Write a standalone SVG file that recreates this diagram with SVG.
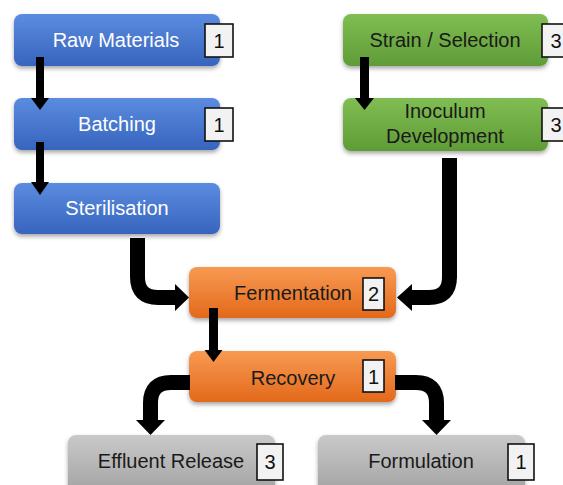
<svg xmlns="http://www.w3.org/2000/svg" width="563" height="485" viewBox="0 0 563 485">
<style>
  .lbl{font-family:"Liberation Sans","Open Sans",sans-serif;font-size:20px;text-anchor:middle}
  .w{fill:#ffffff}
  .d{fill:#1a1a1a}
  .badge{fill:#f2f2f2;stroke:#111;stroke-width:1.6}
  .bt{font-family:"Liberation Sans","Open Sans",sans-serif;font-size:20px;text-anchor:middle;fill:#111}
  .shaft{fill:none;stroke:#000}
  .head{fill:#000}
</style>
<defs>
  <linearGradient id="gb" x1="0" y1="0" x2="0" y2="1"><stop offset="0" stop-color="#5b8ce0"/><stop offset="1" stop-color="#3764bd"/></linearGradient>
  <linearGradient id="gg" x1="0" y1="0" x2="0" y2="1"><stop offset="0" stop-color="#80bd52"/><stop offset="1" stop-color="#5f9c37"/></linearGradient>
  <linearGradient id="go" x1="0" y1="0" x2="0" y2="1"><stop offset="0" stop-color="#f89a52"/><stop offset="1" stop-color="#e3691b"/></linearGradient>
  <linearGradient id="gy" x1="0" y1="0" x2="0" y2="1"><stop offset="0" stop-color="#c9c9c9"/><stop offset="1" stop-color="#a3a3a3"/></linearGradient>
  <filter id="sh" x="-10%" y="-20%" width="120%" height="150%"><feDropShadow dx="0" dy="2.5" stdDeviation="2" flood-color="#000" flood-opacity="0.35"/></filter>
</defs>
<rect width="563" height="485" fill="#ffffff"/>

<g id="raw-materials">
  <rect x="14" y="14" width="206" height="52" rx="8" fill="url(#gb)" filter="url(#sh)"/>
  <text class="lbl w" x="116" y="47">Raw Materials</text>
  <rect class="badge" x="205" y="24" width="28" height="33"/>
  <text class="bt" x="219" y="47.5">1</text>
</g>
<g id="batching">
  <rect x="14" y="98" width="206" height="52" rx="8" fill="url(#gb)" filter="url(#sh)"/>
  <text class="lbl w" x="117" y="131">Batching</text>
  <rect class="badge" x="205" y="108" width="28" height="33"/>
  <text class="bt" x="219" y="131.5">1</text>
</g>
<g id="sterilisation">
  <rect x="14" y="183" width="206" height="51" rx="8" fill="url(#gb)" filter="url(#sh)"/>
  <text class="lbl w" x="117" y="215">Sterilisation</text>
</g>
<g id="strain-selection">
  <rect x="343" y="14" width="205" height="52" rx="8" fill="url(#gg)" filter="url(#sh)"/>
  <text class="lbl d" x="445" y="47">Strain / Selection</text>
  <rect class="badge" x="542" y="24" width="28" height="33"/>
  <text class="bt" x="556" y="47.5">3</text>
</g>
<g id="inoculum-development">
  <rect x="343" y="98" width="205" height="53" rx="8" fill="url(#gg)" filter="url(#sh)"/>
  <text class="lbl d" x="445" y="118">Inoculum</text>
  <text class="lbl d" x="445" y="143">Development</text>
  <rect class="badge" x="542" y="108" width="28" height="33"/>
  <text class="bt" x="556" y="131.5">3</text>
</g>
<g id="fermentation">
  <rect x="189" y="267" width="207" height="51" rx="8" fill="url(#go)" filter="url(#sh)"/>
  <text class="lbl d" x="293" y="300">Fermentation</text>
  <rect class="badge" x="363" y="278" width="21" height="32"/>
  <text class="bt" x="373.5" y="301">2</text>
</g>
<g id="recovery">
  <rect x="189" y="351" width="207" height="51" rx="8" fill="url(#go)" filter="url(#sh)"/>
  <text class="lbl d" x="293" y="385">Recovery</text>
  <rect class="badge" x="363" y="360" width="21" height="32"/>
  <text class="bt" x="373.5" y="384">1</text>
</g>
<g id="effluent-release">
  <rect x="68" y="435" width="207" height="58" rx="8" fill="url(#gy)" filter="url(#sh)"/>
  <text class="lbl d" x="171" y="468">Effluent Release</text>
  <rect class="badge" x="257" y="444" width="26" height="36"/>
  <text class="bt" x="270" y="469">3</text>
</g>
<g id="formulation">
  <rect x="318" y="435" width="207" height="58" rx="8" fill="url(#gy)" filter="url(#sh)"/>
  <text class="lbl d" x="421" y="468">Formulation</text>
  <rect class="badge" x="508" y="444" width="26" height="36"/>
  <text class="bt" x="521" y="469">1</text>
</g>

<g id="connectors">
  <path class="shaft" stroke-width="8" d="M40 57 V99"/>
  <polygon class="head" points="31,98 49,98 40,110"/>
  <path class="shaft" stroke-width="8" d="M40 142 V183"/>
  <polygon class="head" points="31,182 49,182 40,195"/>
  <path class="shaft" stroke-width="9" d="M364.5 57 V99"/>
  <polygon class="head" points="355,98 374,98 364.5,110"/>
  <path class="shaft" stroke-width="9" d="M213.5 308 V351"/>
  <polygon class="head" points="204.5,350 222.5,350 213.5,362"/>

  <path class="shaft" stroke-width="15" d="M137.5 238 V277 Q137.5 297.5 158 297.5 H176"/>
  <polygon class="head" points="175,284 175,311 189,297.5"/>
  <path class="shaft" stroke-width="15" d="M449.5 158 V277 Q449.5 297.5 429 297.5 H411"/>
  <polygon class="head" points="412,284 412,311 397,297.5"/>
  <path class="shaft" stroke-width="15" d="M190 382.5 H171 Q150.5 382.5 150.5 403 V421"/>
  <polygon class="head" points="136,420 165,420 150.5,435"/>
  <path class="shaft" stroke-width="15" d="M395 382.5 H416 Q436.5 382.5 436.5 403 V421"/>
  <polygon class="head" points="422,420 451,420 436.5,435"/>
</g>
</svg>
